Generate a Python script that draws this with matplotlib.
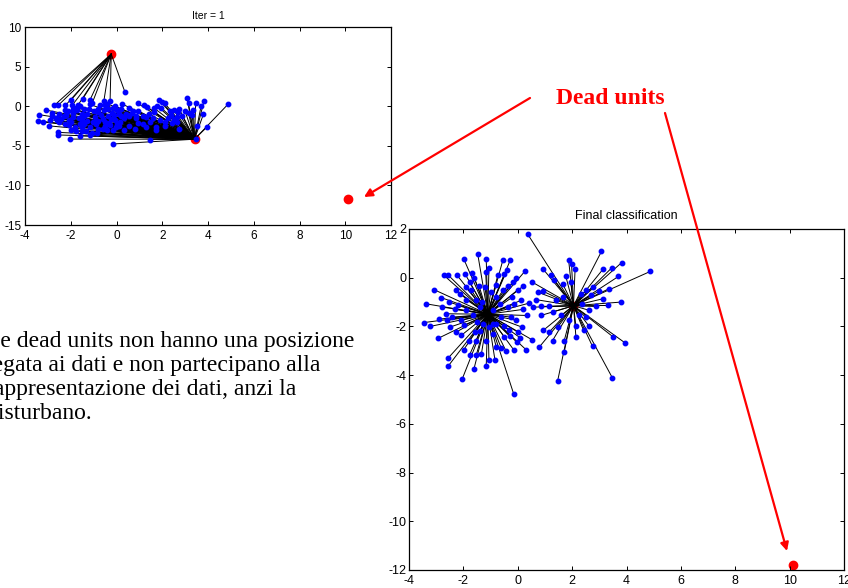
import numpy as np
import matplotlib
matplotlib.use("Agg")
import matplotlib.pyplot as plt

plt.rcParams['font.family'] = ['Liberation Sans', 'DejaVu Sans']
plt.rcParams['axes.unicode_minus'] = False

pts_x = [-1.99, -1.47, -1.16, -1.06, -0.55, -0.28, 0.26,
         -2.72, -2.55, -2.23, -1.93, -1.67, -1.18, -0.73, -0.49, -0.06,
         -3.08, -3.38, -2.81, -2.53, -2.26, -2.14, -1.77, -1.71, -1.43, -0.37, -0.16, 0.18, 0.53, 0.43, 0.55, 0.33, 0.12, -0.12,
         -3.44, -3.22, -2.93, -2.65, -2.60, -2.50, -2.41, -2.26, -2.08, -1.99,
         -2.56, -2.56, -2.04, -1.99, -1.77, -1.61, -1.53, -1.34, -1.16, -1.06, -0.84, -0.79, -0.61, -0.43, -0.15, -0.15,
         -0.04, 0.09, 0.31, 0.53, 0.16, 0.00, -0.31, -0.49, -1.59, -1.53, -1.89, -0.37, -0.55, -0.79, -1.53, -1.89,
         -0.06, -0.24, -2.20, -1.65, -0.79, -1.16, -2.08,
         -1.40, -0.92, -0.67, -1.28, -1.04, -1.30, -0.90, -1.50, -0.60, -1.00, -0.30, -1.20, -0.80, -2.30, -1.80,
         -0.20, -1.90, -0.90, -0.50, -1.40, 0.20, -2.80, -2.90, 0.00, -0.40, -1.60,
         0.37, 0.92, 1.22, 1.34, 1.87, 1.98, 2.11, 1.77, 1.95, 1.65, 3.08, 3.15, 3.46, 3.82, 3.70, 4.88,
         0.73, 0.92, 0.67, 0.85, 0.85, 1.14, 1.28, 0.94, 0.79, 1.16, 1.28, 1.47, 1.71, 1.71, 1.47,
         2.14, 2.14, 2.42, 2.63, 2.75, 3.48, 3.52, 3.94, 3.80, 3.31, 3.15, 3.36, 2.99, 2.75, 2.87,
         2.63, 2.50, 2.26, 1.89, 1.59, 1.40, 2.32, 2.50, 2.69, 1.65, 2.38]
pts_y = [0.78, 0.96, 0.78, 0.41, 0.71, 0.71, 0.26,
         0.10, 0.10, 0.10, 0.14, 0.19, 0.23, 0.12, 0.14, 0.00,
         -0.49, -1.07, -0.82, -1.00, -0.52, -0.66, -0.18, -0.52, -0.32, -0.32, -0.18, -0.36, -0.18, -1.04, -1.21, -1.55, -0.93, -1.07,
         -1.84, -2.00, -2.49, -1.48, -1.75, -2.03, -1.62, -2.23, -2.37, -1.96,
         -3.30, -3.63, -4.15, -2.96, -3.16, -3.74, -3.19, -3.15, -3.64, -3.37, -3.37, -2.85, -2.88, -3.01, -2.96, -4.77,
         -2.64, -2.47, -2.96, -2.55, -2.03, -2.23, -2.16, -2.44, -2.23, -2.58, -1.34, -1.21, -0.52, -0.79, -0.93, -0.90,
         -1.75, -1.62, -1.14, -1.55, -1.89, -2.58, -1.75,
         -1.21, -1.34, -1.07, -1.89, -2.03, -1.00, -1.90, -1.80, -1.60, -0.60, -2.40, -0.40, -0.30, -1.30, -2.60,
         -0.80, -0.40, -2.30, -2.00, -2.20, -1.30, -1.20, -1.70, -0.50, 0.30, 0.00,
         1.78, 0.37, 0.10, -0.11, 0.74, 0.55, 0.37, 0.05, -0.18, -0.25, 1.08, 0.37, 0.41, 0.62, 0.05, 0.26,
         -0.59, -0.55, -0.90, -1.18, -1.55, -1.18, -1.41, -2.16, -2.85, -2.23, -2.58, -2.03, -2.58, -3.05, -4.22,
         -2.44, -2.00, -2.16, -2.00, -2.82, -4.11, -2.44, -2.67, -1.00, -1.14, -0.86, -0.45, -0.55, -0.38, -1.18,
         -1.34, -1.62, -1.55, -1.75, -1.55, -0.93, -0.66, -0.52, -0.73, -0.79, -1.07]

# prototype (unit) positions
iter1_x = [-0.23, 3.41, 10.12]
iter1_y = [6.58, -4.17, -11.76]
final_x = [-1.10, 2.05, 10.12]
final_y = [-1.50, -1.15, -11.80]

x_ticks = [-4, -2, 0, 2, 4, 6, 8, 10, 12]
iter1_yticks = [-15, -10, -5, 0, 5, 10]
final_yticks = [-12, -10, -8, -6, -4, -2, 0, 2]


def draw_panel(ax, cx, cy, title, ylim, yticks, tsize, tpad, lsize, xpad, ypad):
    px = np.array(pts_x)
    py = np.array(pts_y)
    cx = np.array(cx)
    cy = np.array(cy)
    # each point goes to its nearest unit
    d = (px[:, None] - cx[None, :]) ** 2 + (py[:, None] - cy[None, :]) ** 2
    lab = d.argmin(axis=1)
    ax.plot(cx, cy, 'o', color='red', ms=6, mec='red', zorder=1, clip_on=False)
    for i in range(len(px)):
        ax.plot([px[i], cx[lab[i]]], [py[i], cy[lab[i]]], color='black', lw=0.7, zorder=2)
    ax.plot(px, py, 'o', color='blue', ms=3.2, mec='blue', zorder=3)
    ax.set_xlim(-4, 12)
    ax.set_ylim(*ylim)
    ax.set_xticks(x_ticks)
    ax.set_yticks(yticks)
    ax.tick_params(direction='in', top=True, right=True, length=3, width=0.7,
                   labelsize=lsize)
    ax.tick_params(axis='x', pad=xpad)
    ax.tick_params(axis='y', pad=ypad)
    for s in ax.spines.values():
        s.set_linewidth(0.9)
    ax.set_title(title, fontsize=tsize, pad=tpad)


fig = plt.figure(figsize=(8.48, 5.88), dpi=100)

ax1 = fig.add_axes([25 / 848, 1 - 225 / 588, 366 / 848, 198 / 588])
draw_panel(ax1, iter1_x, iter1_y, "Iter = 1", (-15, 10), iter1_yticks, 7.5, 6, 8.5, 3.5, 2.5)

ax2 = fig.add_axes([409 / 848, 1 - 570 / 588, 435 / 848, 341 / 588])
draw_panel(ax2, final_x, final_y, "Final classification", (-12, 2), final_yticks, 9, 7, 9, 3.5, 2)

# slide annotations
fig.text(610 / 848, 1 - 104 / 588, "Dead units", color='red', fontsize=17,
         fontweight='bold', family=['Liberation Serif'], ha='center', va='baseline')

arrow = dict(arrowstyle='-|>', color='red', lw=1.6, mutation_scale=12, shrinkA=0, shrinkB=0)
fig.add_artist(matplotlib.patches.FancyArrowPatch(
    (530 / 848, 1 - 98 / 588), (364 / 848, 1 - 197 / 588),
    transform=fig.transFigure, **arrow))
fig.add_artist(matplotlib.patches.FancyArrowPatch(
    (665 / 848, 1 - 113 / 588), (787 / 848, 1 - 551 / 588),
    transform=fig.transFigure, **arrow))

# the slide text runs off the left edge in the original
lines = ["Le dead units non hanno una posizione",
         "legata ai dati e non partecipano alla",
         "rappresentazione dei dati, anzi la",
         "disturbano."]
for k, s in enumerate(lines):
    fig.text(-14 / 848, 1 - (347 + 24 * k) / 588, s, fontsize=17,
             family=['Liberation Serif'], va='baseline', ha='left')

fig.savefig("out.png", dpi=100)
